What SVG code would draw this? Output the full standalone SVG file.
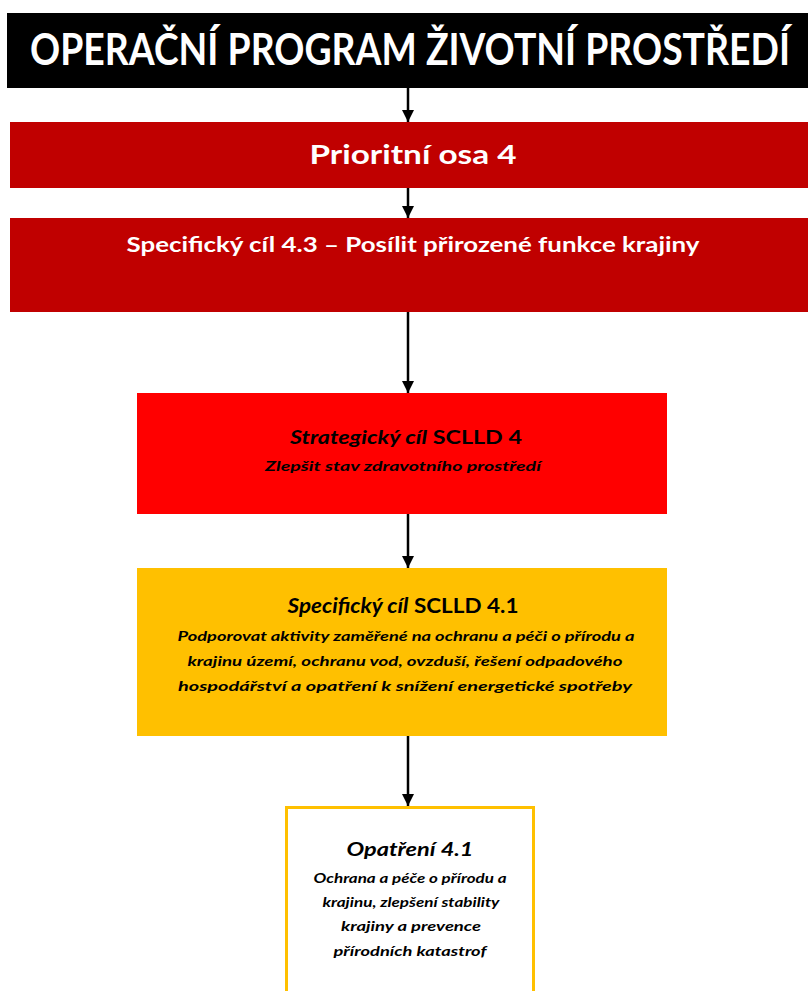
<svg xmlns="http://www.w3.org/2000/svg" width="808" height="991" viewBox="0 0 808 991">
<defs>
<marker id="ah" markerWidth="12" markerHeight="12" refX="10" refY="5" orient="auto" markerUnits="userSpaceOnUse" viewBox="0 0 10 10">
<path d="M0,0 L10,5 L0,10 Z" fill="#000"/>
</marker>
</defs>
<style>
text{font-family:Lato,"Open Sans","Liberation Sans",sans-serif;font-weight:bold;text-anchor:middle}
.w{fill:#fff}
.k{fill:#000}
.i{font-style:italic}
.c{stroke:#000;stroke-width:2.5;fill:none;marker-end:url(#ah)}
</style>
<rect width="808" height="991" fill="#fff"/>
<g id="connectors">
<line class="c" x1="408" y1="88" x2="408" y2="122"/>
<line class="c" x1="408" y1="188" x2="408" y2="218"/>
<line class="c" x1="408" y1="312" x2="408" y2="393"/>
<line class="c" x1="408" y1="514" x2="408" y2="568"/>
<line class="c" x1="408" y1="736" x2="408" y2="806"/>
</g>
<g id="n-op">
<rect x="7" y="13" width="801" height="75" fill="#000"/>
<text class="w" x="410" y="65" font-size="39" font-weight="normal" textLength="760" lengthAdjust="spacingAndGlyphs" transform="translate(0 65) scale(1 1.15) translate(0 -65)">OPERAČNÍ PROGRAM ŽIVOTNÍ PROSTŘEDÍ</text>
</g>
<g id="n-osa">
<rect x="10" y="122" width="798" height="66" fill="#C00000"/>
<text class="w" x="413" y="164" font-size="27" textLength="207" lengthAdjust="spacingAndGlyphs">Prioritní osa 4</text>
</g>
<g id="n-sc43">
<rect x="10" y="218" width="798" height="94" fill="#C00000"/>
<text class="w" x="413" y="252" font-size="20" textLength="573" lengthAdjust="spacingAndGlyphs">Specifický cíl 4.3 – Posílit přirozené funkce krajiny</text>
</g>
<g id="n-strat">
<rect x="137" y="393" width="530" height="121" fill="#FF0000"/>
<text class="k" x="406" y="444" font-size="19" textLength="232" lengthAdjust="spacingAndGlyphs"><tspan class="i">Strategický cíl</tspan> SCLLD 4</text>
<text class="k i" x="403" y="471" font-size="14" textLength="276" lengthAdjust="spacingAndGlyphs">Zlepšit stav zdravotního prostředí</text>
</g>
<g id="n-spec">
<rect x="137" y="568" width="530" height="168" fill="#FFC000"/>
<text class="k" x="403" y="613" font-size="20" textLength="231" lengthAdjust="spacingAndGlyphs"><tspan class="i">Specifický cíl</tspan> SCLLD 4.1</text>
<text class="k i" x="406" y="641" font-size="14" textLength="457" lengthAdjust="spacingAndGlyphs">Podporovat aktivity zaměřené na ochranu a péči o přírodu a</text>
<text class="k i" x="405" y="666" font-size="14" textLength="435" lengthAdjust="spacingAndGlyphs">krajinu území, ochranu vod, ovzduší, řešení odpadového</text>
<text class="k i" x="405" y="691" font-size="14" textLength="454" lengthAdjust="spacingAndGlyphs">hospodářství a opatření k snížení energetické spotřeby</text>
</g>
<g id="n-opatreni">
<rect x="286.5" y="807.5" width="247" height="190" fill="#fff" stroke="#FFC000" stroke-width="3"/>
<text class="k i" x="410" y="856" font-size="19" textLength="127" lengthAdjust="spacingAndGlyphs">Opatření 4.1</text>
<text class="k i" x="410" y="883" font-size="13" textLength="193" lengthAdjust="spacingAndGlyphs">Ochrana a péče o přírodu a</text>
<text class="k i" x="411" y="907" font-size="13" textLength="177" lengthAdjust="spacingAndGlyphs">krajinu, zlepšení stability</text>
<text class="k i" x="411" y="931" font-size="13" textLength="140" lengthAdjust="spacingAndGlyphs">krajiny a prevence</text>
<text class="k i" x="410" y="956" font-size="13" textLength="153" lengthAdjust="spacingAndGlyphs">přírodních katastrof</text>
</g>
</svg>
